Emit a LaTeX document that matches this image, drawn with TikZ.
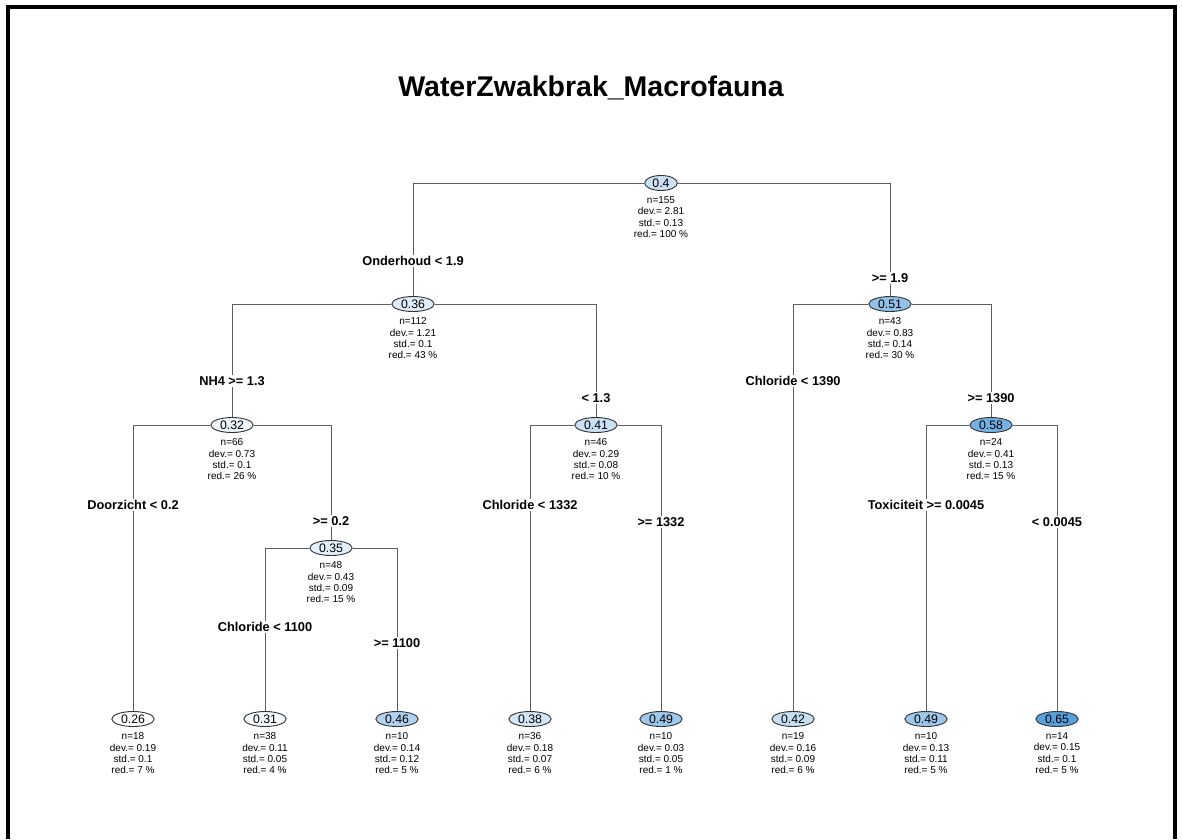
\documentclass[tikz,border=0pt]{standalone}
\usepackage{fontspec}
\setmainfont{Liberation Sans}
\usetikzlibrary{shapes.geometric, positioning}
\definecolor{nodeblue}{RGB}{86,160,220}
\definecolor{edgegray}{RGB}{95,95,95}
\tikzset{
  tnode/.style={
    ellipse,
    draw=black!80,
    line width=0.9pt,
    fill=nodeblue!#1!white,
    minimum width=30pt,
    minimum height=15pt,
    inner xsep=3pt,
    inner ysep=0.5pt,
    font=\fontsize{12.3}{14}\selectfont
  },
  info/.style={
    align=center,
    inner sep=0pt,
    font=\fontsize{10}{11.4}\selectfont
  },
  split/.style={
    fill=white,
    inner sep=1.5pt,
    font=\fontsize{12.8}{15}\bfseries\selectfont
  },
  edge/.style={
    draw=edgegray,
    line width=0.9pt
  }
}

\begin{document}
\begin{tikzpicture}[x=1pt, y=-1pt]

\useasboundingbox (0,0) rectangle (1182,839);

% --- Cadre et titre ---
\draw[line width=4pt] (8,839) -- (8,7) -- (1175,7) -- (1175,839);
\node[font=\fontsize{28.5}{34}\bfseries\selectfont] (title) at (591,88) {WaterZwakbrak\_Macrofauna};

% --- Noeuds de l'arbre ---
\node[tnode=30]  (n1)  at (661,183) {0.4};
\node[tnode=20]  (n2)  at (413,304) {0.36};
\node[tnode=64]  (n3)  at (890,304) {0.51};
\node[tnode=10]  (n4)  at (232,425) {0.32};
\node[tnode=32]  (n5)  at (596,425) {0.41};
\node[tnode=82]  (n7)  at (991,425) {0.58};
\node[tnode=16]  (n9)  at (331,548) {0.35};

% --- Feuilles ---
\node[tnode=0]   (n8)  at (133,719)  {0.26};
\node[tnode=5]   (n18) at (265,719)  {0.31};
\node[tnode=46]  (n19) at (397,719)  {0.46};
\node[tnode=26]  (n10) at (530,719)  {0.38};
\node[tnode=58]  (n11) at (661,719)  {0.49};
\node[tnode=34]  (n6)  at (793,719)  {0.42};
\node[tnode=58]  (n14) at (926,719)  {0.49};
\node[tnode=100] (n15) at (1057,719) {0.65};

% --- Statistiques sous chaque noeud ---
\node[info, below=5.5pt of n1]  (i1)  {n=155\\dev.= 2.81\\std.= 0.13\\red.= 100 \%};
\node[info, below=5.5pt of n2]  (i2)  {n=112\\dev.= 1.21\\std.= 0.1\\red.= 43 \%};
\node[info, below=5.5pt of n3]  (i3)  {n=43\\dev.= 0.83\\std.= 0.14\\red.= 30 \%};
\node[info, below=5.5pt of n4]  (i4)  {n=66\\dev.= 0.73\\std.= 0.1\\red.= 26 \%};
\node[info, below=5.5pt of n5]  (i5)  {n=46\\dev.= 0.29\\std.= 0.08\\red.= 10 \%};
\node[info, below=5.5pt of n7]  (i7)  {n=24\\dev.= 0.41\\std.= 0.13\\red.= 15 \%};
\node[info, below=5.5pt of n9]  (i9)  {n=48\\dev.= 0.43\\std.= 0.09\\red.= 15 \%};
\node[info, below=5.5pt of n8]  (i8)  {n=18\\dev.= 0.19\\std.= 0.1\\red.= 7 \%};
\node[info, below=5.5pt of n18] (i18) {n=38\\dev.= 0.11\\std.= 0.05\\red.= 4 \%};
\node[info, below=5.5pt of n19] (i19) {n=10\\dev.= 0.14\\std.= 0.12\\red.= 5 \%};
\node[info, below=5.5pt of n10] (i10) {n=36\\dev.= 0.18\\std.= 0.07\\red.= 6 \%};
\node[info, below=5.5pt of n11] (i11) {n=10\\dev.= 0.03\\std.= 0.05\\red.= 1 \%};
\node[info, below=5.5pt of n6]  (i6)  {n=19\\dev.= 0.16\\std.= 0.09\\red.= 6 \%};
\node[info, below=5.5pt of n14] (i14) {n=10\\dev.= 0.13\\std.= 0.11\\red.= 5 \%};
\node[info, below=5.5pt of n15] (i15) {n=14\\dev.= 0.15\\std.= 0.1\\red.= 5 \%};

% --- Branches ---
\draw[edge] (n1.west) -| (n2.north);
\draw[edge] (n1.east) -| (n3.north);
\draw[edge] (n2.west) -| (n4.north);
\draw[edge] (n2.east) -| (n5.north);
\draw[edge] (n3.west) -| (n6.north);
\draw[edge] (n3.east) -| (n7.north);
\draw[edge] (n4.west) -| (n8.north);
\draw[edge] (n4.east) -| (n9.north);
\draw[edge] (n5.west) -| (n10.north);
\draw[edge] (n5.east) -| (n11.north);
\draw[edge] (n7.west) -| (n14.north);
\draw[edge] (n7.east) -| (n15.north);
\draw[edge] (n9.west) -| (n18.north);
\draw[edge] (n9.east) -| (n19.north);

% --- Conditions de coupure ---
\node[split] (s2)  at (n2 |- 0,261)  {Onderhoud < 1.9};
\node[split] (s3)  at (n3 |- 0,278)  {>= 1.9};
\node[split] (s4)  at (n4 |- 0,381)  {NH4 >= 1.3};
\node[split] (s5)  at (n5 |- 0,398)  {< 1.3};
\node[split] (s6)  at (n6 |- 0,381)  {Chloride < 1390};
\node[split] (s7)  at (n7 |- 0,398)  {>= 1390};
\node[split] (s8)  at (n8 |- 0,505)  {Doorzicht < 0.2};
\node[split] (s9)  at (n9 |- 0,521)  {>= 0.2};
\node[split] (s10) at (n10 |- 0,505) {Chloride < 1332};
\node[split] (s11) at (n11 |- 0,522) {>= 1332};
\node[split] (s14) at (n14 |- 0,505) {Toxiciteit >= 0.0045};
\node[split] (s15) at (n15 |- 0,522) {< 0.0045};
\node[split] (s18) at (n18 |- 0,627) {Chloride < 1100};
\node[split] (s19) at (n19 |- 0,643) {>= 1100};

\end{tikzpicture}
\end{document}
